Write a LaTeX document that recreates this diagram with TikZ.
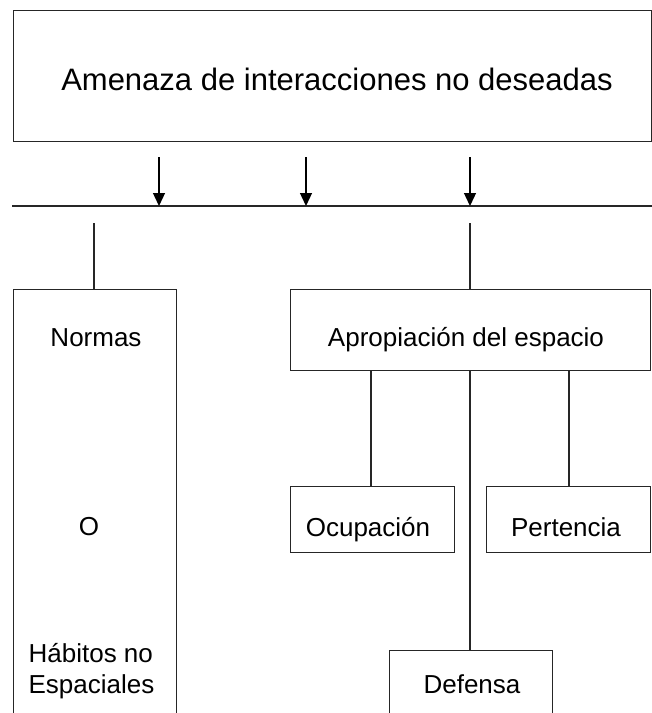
\documentclass[tikz,border=0pt]{standalone}
\usepackage{fontspec}
\setmainfont{Liberation Sans}
\usetikzlibrary{arrows.meta}
\begin{document}
\begin{tikzpicture}[x=1pt,y=-1pt,
  line width=1.3pt,
  boxstyle/.style={draw=black!85, line width=1.3pt, inner sep=0pt, anchor=north west, fill=none},
  txt/.style={font=\fontsize{26}{31}\selectfont, inner sep=0pt, anchor=base},
  conn/.style={draw=black!85, line width=1.3pt},
  arr/.style={draw=black, line width=1.3pt, -{Triangle[length=13pt,width=12pt]}}
]
\useasboundingbox (0,0) rectangle (652,713);
\clip (0,0) rectangle (652,713);
\fill[white] (0,0) rectangle (652,713);

% top box
\node[boxstyle, minimum width=638pt, minimum height=131pt] (top) at (12.5,10) {};
\node[font=\fontsize{31}{37}\selectfont, inner sep=0pt, anchor=base] (toptxt) at (337,90) {Amenaza de interacciones no deseadas};

% horizontal bar
\coordinate (barL) at (12,206);
\coordinate (barR) at (652,206);
\draw[conn] (barL) -- (barR);

% arrows
\coordinate (a1s) at (159,157); \coordinate (a1e) at (159,206);
\coordinate (a2s) at (306,157); \coordinate (a2e) at (306,206);
\coordinate (a3s) at (470,157); \coordinate (a3e) at (470,206);
\draw[arr] (a1s) -- (a1e);
\draw[arr] (a2s) -- (a2e);
\draw[arr] (a3s) -- (a3e);

% Normas box (open at the bottom, cut by page edge)
\node[boxstyle, minimum width=163pt, minimum height=460pt] (normas) at (12.5,289) {};
\node[txt] (normastxt) at (96,346) {Normas};
\node[txt] (otxt) at (89,535) {O};
\node[txt, anchor=base west] (habtxt1) at (28,662) {Hábitos no};
\node[txt, anchor=base west] (habtxt2) at (28,693) {Espaciales};

% Apropiacion box
\node[boxstyle, minimum width=360pt, minimum height=81pt] (apro) at (290,289) {};
\node[txt] (aprotxt) at (466,346) {Apropiación del espacio};

% children
\node[boxstyle, minimum width=164pt, minimum height=66pt] (ocu) at (290,486) {};
\node[txt] (ocutxt) at (368,536) {Ocupación};
\node[boxstyle, minimum width=164pt, minimum height=66pt] (per) at (486,486) {};
\node[txt] (pertxt) at (566,536) {Pertencia};
\node[boxstyle, minimum width=163pt, minimum height=120pt] (def) at (389,650) {};
\node[txt] (deftxt) at (472,693) {Defensa};

% connectors from bar
\coordinate (n1) at (94,223);
\coordinate (n2) at (470,223);
\draw[conn] (n1) -- (normas.north west -| n1);
\draw[conn] (n2) -- (apro.north west -| n2);

% connectors from apropiacion
\draw[conn] (apro.south west -| 371,0) -- (ocu.north west -| 371,0);
\draw[conn] (apro.south west -| 569,0) -- (per.north west -| 569,0);
\draw[conn] (apro.south west -| 470,0) -- (def.north west -| 470,0);
\end{tikzpicture}
\end{document}
